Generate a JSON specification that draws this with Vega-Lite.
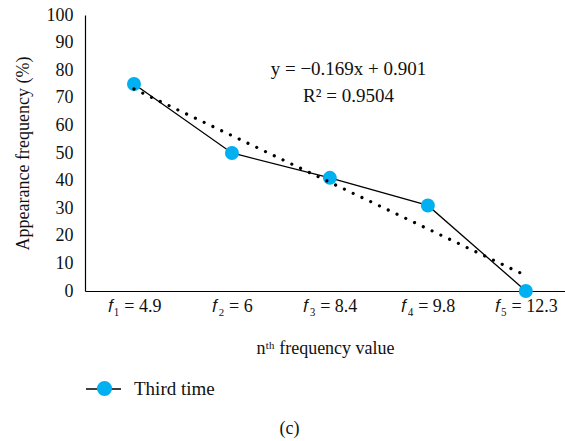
{
  "$schema": "https://vega.github.io/schema/vega-lite/v6.json",
  "autosize": {"type": "none"},
  "width": 480,
  "height": 276,
  "padding": {"left": 85, "top": 15, "right": 0, "bottom": 150},
  "background": "white",
  "config": {
    "view": {"stroke": null},
    "font": "Liberation Serif",
    "axis": {"labelFont": "Liberation Serif", "titleFont": "Liberation Serif", "labelColor": "#111", "titleColor": "#111", "titleFontWeight": "normal", "grid": false, "ticks": false, "labelOverlap": false, "domainColor": "#000", "domainWidth": 1.2}
  },
  "title": {"text": "(c)", "orient": "bottom", "frame": "bounds", "anchor": "middle", "font": "Liberation Serif", "fontSize": 18, "fontWeight": "normal", "color": "#111", "offset": 21},
  "data": {"values": [
    {"idx": 1, "label": "f₁ = 4.9", "value": 75, "trend": 73.2, "series": "Third time", "lkey": "Third time "},
    {"idx": 2, "label": "f₂ = 6", "value": 50, "trend": 56.3, "series": "Third time", "lkey": "Third time "},
    {"idx": 3, "label": "f₃ = 8.4", "value": 41, "trend": 39.4, "series": "Third time", "lkey": "Third time "},
    {"idx": 4, "label": "f₄ = 9.8", "value": 31, "trend": 22.5, "series": "Third time", "lkey": "Third time "},
    {"idx": 5, "label": "f₅ = 12.3", "value": 0, "trend": 5.6, "series": "Third time", "lkey": "Third time "}
  ]},
  "encoding": {
    "x": {"field": "idx", "type": "quantitative", "scale": {"domain": [0.5, 5.4], "nice": false, "zero": false},
      "axis": {"values": [1, 2, 3, 4, 5], "labelExpr": "['𝑓₁ = 4.9', '𝑓₂ = 6', '𝑓₃ = 8.4', '𝑓₄ = 9.8', '𝑓₅ = 12.3'][datum.value - 1]", "labelFontSize": 18, "labelPadding": 6, "title": "nᵗʰ frequency value", "titleFontSize": 18, "titlePadding": 24}},
    "y": {"field": "value", "type": "quantitative", "scale": {"domain": [0, 100], "nice": false},
      "axis": {"values": [0, 10, 20, 30, 40, 50, 60, 70, 80, 90, 100], "labelOverlap": false, "labelFontSize": 18, "labelPadding": 12, "title": "Appearance frequency (%)", "titleFontSize": 18, "titlePadding": 14}}
  },
  "layer": [
    {
      "mark": {"type": "line", "strokeWidth": 1.3},
      "encoding": {
        "stroke": {"field": "lkey", "type": "nominal", "scale": {"range": ["#000000"]},
          "legend": {"orient": "none", "legendX": 0, "legendY": 355.5, "title": null, "symbolType": "stroke", "symbolSize": 1225, "symbolStrokeWidth": 1.3, "labelExpr": "''", "labelFontSize": 1, "padding": 0}}
      }
    },
    {
      "mark": {"type": "point", "filled": true, "opacity": 1, "size": 196, "shape": "circle", "strokeWidth": 0},
      "encoding": {
        "fill": {"field": "series", "type": "nominal", "scale": {"range": ["#00b0f0"]},
          "legend": {"orient": "none", "legendX": 10, "legendY": 364, "title": null, "symbolType": "circle", "symbolSize": 230, "symbolOpacity": 1, "symbolStrokeWidth": 0, "labelOffset": 20, "labelFont": "Liberation Serif", "labelFontSize": 19, "labelColor": "#111", "padding": 0}}
      }
    },
    {
      "mark": {"type": "line", "stroke": "#000", "strokeWidth": 3.2, "strokeCap": "round", "strokeDash": [0.01, 9.7]},
      "encoding": {"y": {"field": "trend", "type": "quantitative",
        "axis": {"values": [0, 10, 20, 30, 40, 50, 60, 70, 80, 90, 100], "labelOverlap": false, "labelFontSize": 18, "labelPadding": 12, "title": "Appearance frequency (%)", "titleFontSize": 18, "titlePadding": 14}}}
    },
    {
      "transform": [{"filter": "datum.idx == 1"}],
      "mark": {"type": "text", "text": ["y = −0.169x + 0.901", "R² = 0.9504"], "align": "center", "baseline": "alphabetic", "lineHeight": 27, "font": "Liberation Serif", "fontSize": 19, "color": "#111"},
      "encoding": {"x": {"datum": 3.19}, "y": {"datum": 78.2,
        "axis": {"values": [0, 10, 20, 30, 40, 50, 60, 70, 80, 90, 100], "labelOverlap": false, "labelFontSize": 18, "labelPadding": 12, "title": "Appearance frequency (%)", "titleFontSize": 18, "titlePadding": 14}}}
    }
  ]
}
